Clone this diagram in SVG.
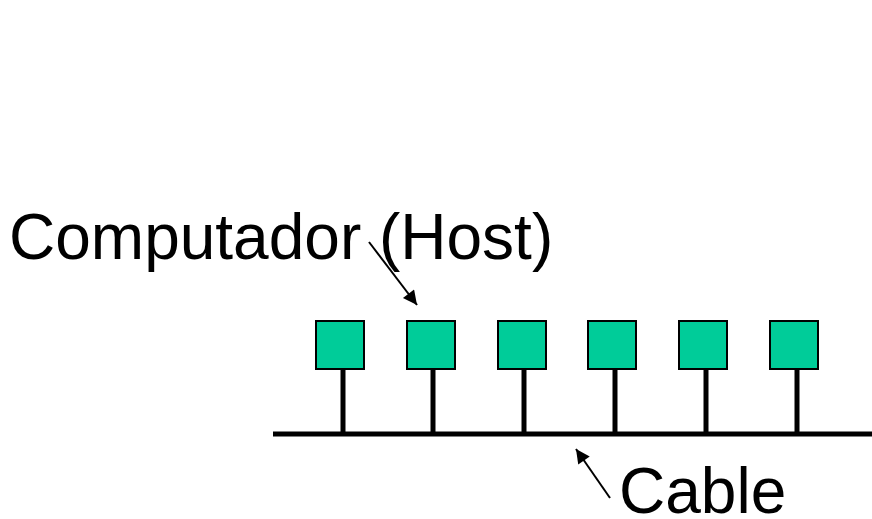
<svg xmlns="http://www.w3.org/2000/svg" width="872" height="519" viewBox="0 0 872 519">
<style>
.host{fill:#00CC99;stroke:#000;stroke-width:2}
.stem{stroke:#000;stroke-width:5}
.lbl{font-family:"Liberation Sans",Arial,sans-serif;font-size:64px;fill:#000}
.arr{stroke:#000;stroke-width:2;fill:none}
</style>
<defs>
<marker id="ah" viewBox="0 0 10 10" refX="10" refY="5" markerWidth="8" markerHeight="7" markerUnits="strokeWidth" orient="auto">
<path d="M0,0 L10,5 L0,10 z" fill="#000"/>
</marker>
</defs>
<rect width="872" height="519" fill="#fff"/>
<g id="connectors">
<line class="stem" x1="273" y1="434" x2="872" y2="434"/>
<line class="stem" x1="343" y1="369" x2="343" y2="434"/>
<line class="stem" x1="433" y1="369" x2="433" y2="434"/>
<line class="stem" x1="524" y1="369" x2="524" y2="434"/>
<line class="stem" x1="615" y1="369" x2="615" y2="434"/>
<line class="stem" x1="706" y1="369" x2="706" y2="434"/>
<line class="stem" x1="797" y1="369" x2="797" y2="434"/>
<line class="arr" x1="369" y1="242" x2="417" y2="305" marker-end="url(#ah)"/>
<line class="arr" x1="610" y1="498" x2="576" y2="449" marker-end="url(#ah)"/>
</g>
<g id="host1"><rect class="host" x="316" y="321" width="48" height="48"/></g>
<g id="host2"><rect class="host" x="407" y="321" width="48" height="48"/></g>
<g id="host3"><rect class="host" x="498" y="321" width="48" height="48"/></g>
<g id="host4"><rect class="host" x="588" y="321" width="48" height="48"/></g>
<g id="host5"><rect class="host" x="679" y="321" width="48" height="48"/></g>
<g id="host6"><rect class="host" x="770" y="321" width="48" height="48"/></g>
<g id="label-host"><text class="lbl" x="9" y="259">Computador (Host)</text></g>
<g id="label-cable"><text class="lbl" x="619" y="513">Cable</text></g>
</svg>
